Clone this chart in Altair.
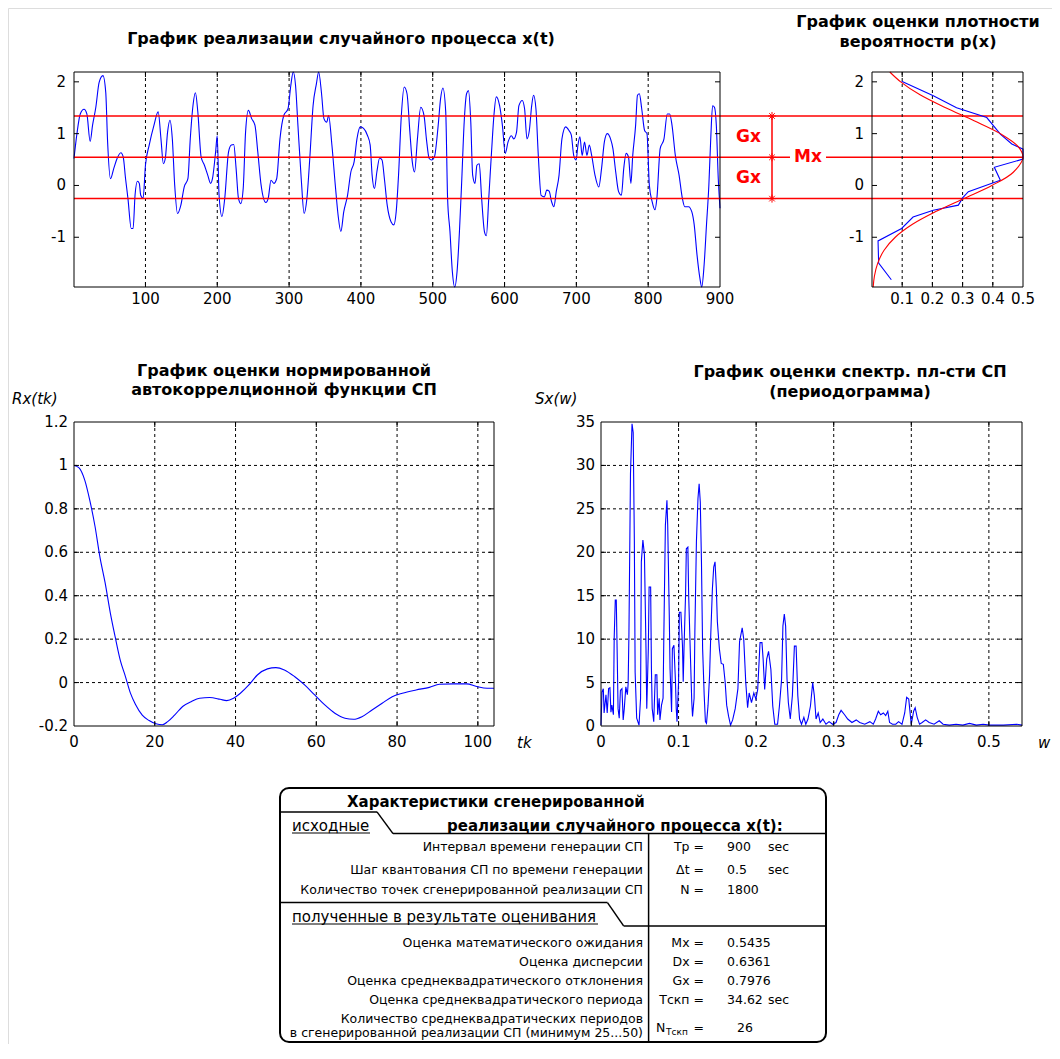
import altair as alt
import pandas as pd

# ---------------- values ----------------
Mx, Gx = 0.5435, 0.7976

t_sec = [0.5, 4.6, 9.2, 14.5, 18.4, 23.0, 26.3, 30.9, 35.5, 40.8,
         44.7, 47.3, 51.3, 55.9, 60.5, 65.8, 69.0, 72.3, 75.6, 80.2,
         82.8, 85.5, 88.8, 91.4, 93.4, 96.7, 100.0, 105.2, 111.8, 117.7,
         121.6, 124.9, 127.6, 130.8, 134.1, 137.4, 140.7, 144.6, 149.3, 153.9,
         159.1, 162.4, 165.7, 169.6, 172.9, 177.5, 182.1, 186.7, 190.7, 193.3,
         197.9, 199.9, 202.5, 206.5, 210.4, 215.7, 219.6, 222.9, 226.2, 229.5,
         232.8, 236.1, 239.4, 243.3, 247.9, 252.5, 256.4, 261.0, 267.6, 270.9,
         274.8, 278.8, 282.7, 287.3, 292.6, 298.5, 302.4, 305.7, 309.0, 312.3,
         316.9, 320.9, 324.8, 328.8, 333.4, 338.0, 341.2, 345.2, 348.5, 352.4,
         355.0, 359.6, 364.3, 368.2, 372.1, 376.1, 381.4, 386.0, 390.6, 394.5,
         399.1, 403.7, 409.0, 412.9, 415.6, 418.9, 422.2, 426.1, 429.4, 432.7,
         436.6, 441.9, 445.8, 449.1, 452.4, 456.3, 460.3, 464.2, 468.2, 471.5,
         474.7, 478.7, 483.3, 487.9, 491.2, 495.1, 498.4, 502.3, 507.6, 510.9,
         514.2, 518.1, 520.7, 524.0, 527.3, 530.6, 533.9, 537.2, 540.5, 543.8,
         547.1, 549.7, 553.0, 555.6, 558.9, 561.5, 564.8, 568.1, 572.0, 574.7,
         578.0, 581.9, 585.2, 588.5, 593.1, 597.0, 601.0, 604.9, 609.5, 612.8,
         616.7, 620.0, 624.6, 627.9, 631.2, 634.5, 637.8, 640.4, 643.7, 647.0,
         650.9, 655.5, 658.8, 662.1, 665.4, 668.7, 672.0, 675.9, 679.9, 685.1,
         689.7, 693.0, 696.3, 699.6, 702.2, 704.9, 708.1, 711.4, 714.7, 718.0,
         721.3, 725.9, 731.2, 735.1, 739.0, 743.0, 747.6, 750.9, 754.8, 758.8,
         762.7, 766.0, 769.3, 772.6, 775.9, 778.5, 782.5, 785.1, 787.7, 791.0,
         795.0, 798.3, 801.6, 805.5, 809.5, 812.1, 816.7, 822.0, 826.6, 829.9,
         833.2, 837.8, 843.0, 847.6, 850.9, 856.2, 860.8, 864.1, 868.0, 872.0,
         874.6, 877.9, 881.2, 884.5, 887.1, 889.7, 892.3, 894.9, 897.6, 900.0]
x_val = [0.52, 1.00, 1.38, 1.47, 1.38, 0.85, 1.16, 1.51, 1.99, 2.12,
         1.80, 0.84, 0.13, 0.33, 0.52, 0.63, 0.55, 0.13, -0.25, -0.83,
         -0.83, -0.19, 0.08, 0.04, -0.19, -0.25, 0.39, 0.78, 1.16, 1.42,
         0.90, 0.42, 0.52, 1.03, 1.26, 0.90, 0.01, -0.54, -0.38, -0.03,
         0.13, 0.90, 1.48, 1.79, 1.42, 0.55, 0.39, 0.20, 0.04, 0.13,
         0.68, 0.96, -0.19, -0.60, -0.25, 0.65, 0.78, 0.79, 0.33, -0.25,
         -0.35, -0.06, 1.03, 1.45, 1.29, 1.16, 0.65, 0.01, -0.33, -0.25,
         0.10, 0.04, 0.13, 0.90, 1.35, 1.48, 1.93, 2.19, 1.93, 1.16,
         0.13, -0.54, -0.25, 0.52, 1.54, 1.96, 2.19, 1.77, 1.29, 1.22,
         1.35, 0.78, 0.01, -0.57, -0.89, -0.51, -0.19, 0.26, 0.46, 0.90,
         1.13, 1.10, 0.97, 0.78, 0.20, -0.06, 0.26, 0.53, 0.49, 0.13,
         -0.38, -0.70, -0.76, -0.51, 0.20, 1.35, 1.90, 1.77, 1.03, 0.46,
         0.26, 0.90, 1.51, 1.35, 0.90, 0.52, 0.49, 0.55, 1.16, 1.67,
         1.88, 1.42, -0.25, -0.89, -1.66, -1.96, -1.66, -0.89, 0.13, 1.22,
         1.77, 1.83, 1.22, 0.20, 0.04, 0.39, 0.42, -0.25, -0.89, -0.97,
         -0.25, 0.65, 1.35, 1.71, 1.54, 1.16, 0.62, 0.84, 0.96, 0.90,
         1.03, 1.54, 1.64, 1.48, 0.90, 1.06, 1.54, 1.74, 1.48, 0.58,
         -0.19, -0.22, -0.09, -0.11, -0.31, -0.41, -0.12, 0.20, 0.90, 1.13,
         1.06, 0.97, 0.58, 0.49, 0.78, 0.94, 0.58, 0.84, 0.58, 0.78,
         0.58, 0.20, -0.03, 0.33, 0.84, 1.00, 0.90, 0.71, 0.26, -0.12,
         -0.19, 0.33, 0.62, 0.55, 0.04, 0.58, 1.16, 1.74, 1.77, 1.48,
         1.06, 1.00, 0.01, -0.31, -0.47, -0.25, 0.71, 0.90, 1.38, 1.38,
         1.16, 0.58, 0.20, -0.25, -0.41, -0.41, -0.51, -0.76, -1.34, -1.79,
         -1.96, -1.53, -0.76, 0.01, 0.90, 1.54, 1.51, 1.16, 0.13, -0.44]

dens_x = [-1.82, -1.50, -1.07, -0.83, -0.61, -0.48, -0.38, -0.24, -0.12, 0.10,
          0.35, 0.51, 0.70, 0.80, 0.99, 1.31, 1.50, 1.73, 2.01]
dens_p = [0.064, 0.022, 0.020, 0.098, 0.136, 0.203, 0.286, 0.300, 0.319, 0.425,
          0.405, 0.500, 0.500, 0.463, 0.425, 0.380, 0.280, 0.203, 0.098]
gauss_x = [-1.96, -1.75, -1.5, -1.25, -1.0, -0.75, -0.5, -0.25, 0.0, 0.25,
           0.5435, 0.75, 1.0, 1.25, 1.5, 1.75, 2.0, 2.19]
gauss_p = [0.004, 0.008, 0.019, 0.040, 0.077, 0.134, 0.213, 0.305, 0.397, 0.467,
           0.500, 0.484, 0.425, 0.338, 0.244, 0.159, 0.095, 0.059]

acf_tk = [0, 1.2, 2.7, 3.9, 5.2, 6.4, 7.7, 9.0, 10.2, 11.5,
          12.7, 14.0, 15.2, 16.9, 18.6, 20.3, 21.9, 23.2, 24.9, 26.9,
          29.0, 31.1, 33.6, 36.2, 37.8, 39.5, 41.2, 43.3, 45.4, 47.9,
          50.0, 52.1, 54.6, 57.1, 59.6, 62.1, 64.6, 67.1, 69.2, 71.3,
          73.8, 76.3, 78.8, 81.3, 84.7, 88.0, 90.5, 93.9, 97.2, 99.7,
          102.3, 104.0]
acf_r = [1.0, 0.99, 0.93, 0.84, 0.72, 0.58, 0.46, 0.32, 0.21, 0.10,
         0.03, -0.05, -0.10, -0.15, -0.175, -0.19, -0.194, -0.18, -0.15, -0.11,
         -0.088, -0.072, -0.069, -0.077, -0.083, -0.072, -0.049, -0.011, 0.035, 0.063,
         0.069, 0.058, 0.028, -0.011, -0.057, -0.103, -0.141, -0.164, -0.169, -0.157,
         -0.126, -0.095, -0.065, -0.049, -0.034, -0.022, -0.008, -0.006, -0.006, -0.018,
         -0.026, -0.026]

psd_w = [0, 0.0013, 0.003, 0.004, 0.0064, 0.008, 0.0098, 0.0115, 0.0128, 0.014,
         0.016, 0.017, 0.0184, 0.0197, 0.021, 0.022, 0.0235, 0.025, 0.027, 0.0286,
         0.030, 0.032, 0.034, 0.035, 0.036, 0.038, 0.040, 0.0415, 0.043, 0.044,
         0.046, 0.049, 0.051, 0.052, 0.054, 0.056, 0.058, 0.059, 0.061, 0.062,
         0.064, 0.065, 0.066, 0.068, 0.070, 0.072, 0.073, 0.075, 0.076, 0.078,
         0.080, 0.081, 0.083, 0.085, 0.086, 0.088, 0.089, 0.091, 0.092, 0.094,
         0.096, 0.097, 0.098, 0.100, 0.101, 0.103, 0.105, 0.106, 0.107, 0.109,
         0.110, 0.112, 0.113, 0.115, 0.117, 0.118, 0.120, 0.121, 0.123, 0.125,
         0.1265, 0.128, 0.1295, 0.131, 0.133, 0.1346, 0.136, 0.138, 0.140, 0.1415,
         0.1436, 0.1453, 0.147, 0.1487, 0.150, 0.1526, 0.155, 0.1577, 0.160, 0.162,
         0.1645, 0.167, 0.1697, 0.173, 0.1765, 0.1786, 0.182, 0.184, 0.1866, 0.189,
         0.191, 0.194, 0.197, 0.1997, 0.202, 0.205, 0.2075, 0.209, 0.211, 0.2136,
         0.216, 0.219, 0.2214, 0.224, 0.2276, 0.230, 0.2328, 0.2345, 0.2363, 0.238,
         0.2398, 0.2415, 0.244, 0.2467, 0.2493, 0.2515, 0.2537, 0.256, 0.2585, 0.2615,
         0.264, 0.2668, 0.270, 0.2729, 0.275, 0.2772, 0.280, 0.2825, 0.286, 0.290,
         0.294, 0.2986, 0.303, 0.3065, 0.3095, 0.314, 0.318, 0.3235, 0.329, 0.3335,
         0.340, 0.3466, 0.351, 0.354, 0.3575, 0.3605, 0.364, 0.367, 0.3697, 0.372,
         0.3758, 0.380, 0.3836, 0.388, 0.3915, 0.394, 0.3967, 0.399, 0.400, 0.403,
         0.405, 0.4076, 0.4106, 0.414, 0.4185, 0.423, 0.4294, 0.436, 0.441, 0.449,
         0.4577, 0.4664, 0.475, 0.4839, 0.4926, 0.501, 0.5187, 0.536, 0.5427]
psd_s = [0.1, 3.9, 4.3, 1.5, 3.6, 1.5, 4.3, 4.4, 1.6, 2.4,
         1.3, 10.1, 14.5, 14.5, 7.6, 2.0, 0.9, 4.1, 4.3, 0.7,
         2.0, 4.5, 3.6, 4.9, 10.5, 29.0, 34.8, 33.8, 21.2, 6.2,
         0.9, 0.1, 3.2, 18.9, 21.4, 19.7, 8.9, 2.0, 8.9, 16.0,
         16.0, 6.6, 2.0, 0.5, 5.9, 5.9, 1.3, 3.2, 0.7, 2.4,
         3.2, 10.3, 23.1, 26.0, 23.1, 12.8, 6.6, 1.6, 8.9, 9.3,
         5.1, 2.0, 0.5, 5.1, 13.1, 13.1, 9.3, 5.1, 8.9, 15.1,
         20.4, 20.6, 15.1, 8.9, 2.8, 1.1, 3.2, 10.8, 21.2, 26.2,
         27.9, 25.8, 18.9, 8.9, 3.6, 0.5, 0.3, 2.4, 5.9, 10.5,
         15.8, 18.3, 18.9, 15.8, 12.0, 8.9, 7.2, 7.1, 5.1, 2.4,
         1.1, 0.1, 0.7, 2.0, 4.3, 9.7, 11.3, 10.0, 5.0, 2.1,
         3.8, 2.7, 3.8, 3.1, 4.2, 9.6, 9.6, 7.7, 4.2, 7.7,
         8.6, 6.5, 2.3, 0.2, 0.2, 2.3, 5.4, 11.5, 12.9, 11.5,
         5.4, 2.7, 0.8, 3.5, 9.2, 9.2, 3.5, 0.8, 0.2, 1.0,
         0.2, 0.8, 2.3, 5.0, 3.5, 0.8, 1.5, 0.4, 0.8, 0.2,
         0.5, 0.2, 0.4, 1.3, 1.8, 1.3, 0.8, 0.4, 0.7, 0.4,
         0.2, 0.5, 0.2, 0.8, 1.7, 1.3, 1.5, 1.2, 1.7, 0.4,
         0.2, 0.2, 0.5, 0.2, 1.5, 3.3, 3.1, 1.0, 0.2, 1.7,
         2.1, 1.0, 0.2, 0.4, 0.7, 0.4, 0.2, 0.6, 0.2, 0.1,
         0.2, 0.1, 0.3, 0.1, 0.2, 0.1, 0.1, 0.2, 0.1]

# tick / grid values
p1_xticks = [100, 200, 300, 400, 500, 600, 700, 800, 900]
p1_yticks = [-1, 0, 1, 2]
p2_xticks = [0.1, 0.2, 0.3, 0.4, 0.5]
p3_xticks = [0, 20, 40, 60, 80, 100]
p3_yticks = [-0.2, 0, 0.2, 0.4, 0.6, 0.8, 1, 1.2]
p4_xticks = [0, 0.1, 0.2, 0.3, 0.4, 0.5]
p4_yticks = [0, 5, 10, 15, 20, 25, 30, 35]

# text
titles = ["График реализации случайного процесса x(t)",
          "График оценки плотности", "вероятности p(x)",
          "График оценки нормированной", "автокоррелционной функции СП",
          "График оценки спектр. пл-сти СП", "(периодограмма)"]
axis_names = ["Rx(tk)", "Sx(w)", "tk", "w"]

tbl_head = ["Характеристики сгенерированной", "реализации случайного процесса x(t):"]
tbl_sections = ["исходные", "полученные в результате оценивания"]
in_labels = ["Интервал времени генерации СП",
             "Шаг квантования СП по времени генерации",
             "Количество точек сгенерированной реализации СП"]
in_syms = ["Tp =", "Δt =", "N ="]
in_vals = ["900", "0.5", "1800"]
in_units = ["sec", "sec", ""]
out_labels = ["Оценка математического ожидания", "Оценка дисперсии",
              "Оценка среднеквадратического отклонения",
              "Оценка среднеквадратического периода"]
out_syms = ["Mx =", "Dx =", "Gx =", "Тскп ="]
out_vals = ["0.5435", "0.6361", "0.7976", "34.62"]
out_units = ["", "", "", "sec"]
last_labels = ["Количество среднеквадратических периодов",
               "в сгенерированной реализации СП (минимум 25...50)"]
last_sym, last_sub, last_eq, last_val = "N", "Тскп", "=", "26"

# ---------------- layout / style ----------------
FONT = "DejaVu Sans"
BLUE = "#0000ff"
RED = "#ff0000"
W, H = 1044, 1036

P1 = {"x0": 66, "x1": 712, "y0": 64, "y1": 279}
P2 = {"x0": 864, "x1": 1015, "y0": 64, "y1": 279}
P3 = {"x0": 66, "x1": 486, "y0": 414, "y1": 718}
P4 = {"x0": 593, "x1": 1014, "y0": 414, "y1": 718}


def lin(domain, P, ax):
    rng = [P["x0"], P["x1"]] if ax == "x" else [P["y1"], P["y0"]]
    return alt.Scale(domain=domain, range=rng, nice=False, zero=False)


sx1 = lin([0.5, 900], P1, "x")
sy1 = lin([-1.96, 2.19], P1, "y")
sx2 = lin([0, 0.5], P2, "x")
sy2 = lin([-1.96, 2.19], P2, "y")
sx3 = lin([0, 104], P3, "x")
sy3 = lin([-0.2, 1.2], P3, "y")
sx4 = lin([0, 0.5427], P4, "x")
sy4 = lin([0, 35], P4, "y")


def fmt(v):
    return f"{v:g}"


def xlabels(vals, sx, P, pad):
    df = pd.DataFrame({"v": vals, "txt": [fmt(v) for v in vals]})
    return alt.Chart(df).mark_text(align="center", baseline="top", font=FONT, fontSize=15,
                                   color="black").encode(
        x=alt.X("v:Q", scale=sx, axis=None), y=alt.value(P["y1"] + pad), text="txt:N")


def ylabels(vals, sy, P, pad):
    df = pd.DataFrame({"v": vals, "txt": [fmt(v) for v in vals]})
    return alt.Chart(df).mark_text(align="right", baseline="middle", font=FONT, fontSize=15,
                                   color="black").encode(
        y=alt.Y("v:Q", scale=sy, axis=None), x=alt.value(P["x0"] - pad), text="txt:N")


def vgrid(vals, sx, P):
    return alt.Chart(pd.DataFrame({"v": vals})).mark_rule(
        color="black", strokeDash=[3, 3], strokeWidth=1).encode(
        x=alt.X("v:Q", scale=sx, axis=None), y=alt.value(P["y0"]), y2=alt.value(P["y1"]))


def hgrid(vals, sy, P):
    return alt.Chart(pd.DataFrame({"v": vals})).mark_rule(
        color="black", strokeDash=[3, 3], strokeWidth=1).encode(
        y=alt.Y("v:Q", scale=sy, axis=None), x=alt.value(P["x0"]), x2=alt.value(P["x1"]))


def frame(P):
    return alt.Chart(pd.DataFrame({"k": [0]})).mark_rect(
        filled=False, color="black", strokeWidth=1).encode(
        x=alt.value(P["x0"]), x2=alt.value(P["x1"]), y=alt.value(P["y0"]), y2=alt.value(P["y1"]))


def xticks(vals, sx, P):
    n = len(vals)
    df = pd.DataFrame({"v": vals * 2, "py": [P["y1"]] * n + [P["y0"]] * n,
                       "shp": ["M0,0L0,-1"] * n + ["M0,0L0,1"] * n})
    return alt.Chart(df).mark_point(filled=False, color="black", strokeWidth=1,
                                    size=100, opacity=1).encode(
        x=alt.X("v:Q", scale=sx, axis=None), y=alt.Y("py:Q", scale=None, axis=None),
        shape=alt.Shape("shp:N", scale=None, legend=None))


def yticks(vals, sy, P):
    n = len(vals)
    df = pd.DataFrame({"v": vals * 2, "px": [P["x0"]] * n + [P["x1"]] * n,
                       "shp": ["M0,0L1,0"] * n + ["M0,0L-1,0"] * n})
    return alt.Chart(df).mark_point(filled=False, color="black", strokeWidth=1,
                                    size=100, opacity=1).encode(
        y=alt.Y("v:Q", scale=sy, axis=None), x=alt.X("px:Q", scale=None, axis=None),
        shape=alt.Shape("shp:N", scale=None, legend=None))


# ---------------- panel 1: realisation ----------------
df_ts = pd.DataFrame({"t": t_sec, "x": x_val})
ts_line = alt.Chart(df_ts).mark_line(color=BLUE, strokeWidth=1.1, interpolate="monotone").encode(
    x=alt.X("t:Q", scale=sx1, axis=None), y=alt.Y("x:Q", scale=sy1, axis=None))

red_full = alt.Chart(pd.DataFrame({"y": [Mx + Gx, Mx - Gx]})).mark_rule(
    color=RED, strokeWidth=1.5).encode(
    y=alt.Y("y:Q", scale=sy1, axis=None), x=alt.value(P1["x0"]), x2=alt.value(P2["x1"]))
red_mx_a = alt.Chart(pd.DataFrame({"y": [Mx]})).mark_rule(color=RED, strokeWidth=1.5).encode(
    y=alt.Y("y:Q", scale=sy1, axis=None), x=alt.value(P1["x0"]), x2=alt.value(782))
red_mx_b = alt.Chart(pd.DataFrame({"y": [Mx]})).mark_rule(color=RED, strokeWidth=1.5).encode(
    y=alt.Y("y:Q", scale=sy1, axis=None), x=alt.value(818), x2=alt.value(P2["x1"]))
red_vert = alt.Chart(pd.DataFrame({"y": [Mx + Gx], "y2": [Mx - Gx]})).mark_rule(
    color=RED, strokeWidth=1.5).encode(
    y=alt.Y("y:Q", scale=sy1, axis=None), y2="y2:Q", x=alt.value(764))
ASTER = "M-1,0L1,0M0,-1L0,1M-0.7,-0.7L0.7,0.7M-0.7,0.7L0.7,-0.7"
red_star = alt.Chart(pd.DataFrame({"y": [Mx + Gx, Mx, Mx - Gx]})).mark_point(
    shape=ASTER, size=64, filled=False, color=RED, strokeWidth=1, opacity=1).encode(
    y=alt.Y("y:Q", scale=sy1, axis=None), x=alt.value(764))
gx_txt = alt.Chart(pd.DataFrame({"y": [Mx + Gx / 2, Mx - Gx / 2], "t": ["Gx", "Gx"]})).mark_text(
    align="right", baseline="middle", font=FONT, fontSize=17, fontWeight="bold", color=RED).encode(
    y=alt.Y("y:Q", scale=sy1, axis=None), x=alt.value(753), text="t:N")
mx_txt = alt.Chart(pd.DataFrame({"y": [Mx], "t": ["Mx"]})).mark_text(
    align="center", baseline="middle", font=FONT, fontSize=17, fontWeight="bold", color=RED).encode(
    y=alt.Y("y:Q", scale=sy1, axis=None), x=alt.value(800), text="t:N")

panel1 = alt.layer(
    vgrid(p1_xticks[:-1], sx1, P1), ts_line, red_full, red_mx_a, red_mx_b, red_vert, red_star,
    gx_txt, mx_txt, frame(P1), xticks(p1_xticks[:-1], sx1, P1), yticks(p1_yticks, sy1, P1),
    xlabels(p1_xticks, sx1, P1, 5), ylabels(p1_yticks, sy1, P1, 8))

# ---------------- panel 2: density ----------------
df_d = pd.DataFrame({"v": dens_x, "p": dens_p, "i": list(range(len(dens_x)))})
df_g = pd.DataFrame({"v": gauss_x, "p": gauss_p, "i": list(range(len(gauss_x)))})
dens_line = alt.Chart(df_d).mark_line(color=BLUE, strokeWidth=1.1).encode(
    x=alt.X("p:Q", scale=sx2, axis=None), y=alt.Y("v:Q", scale=sy2, axis=None),
    order=alt.Order("i:Q"))
gauss_line = alt.Chart(df_g).mark_line(color=RED, strokeWidth=1.1, interpolate="catmull-rom").encode(
    x=alt.X("p:Q", scale=sx2, axis=None), y=alt.Y("v:Q", scale=sy2, axis=None),
    order=alt.Order("i:Q"))
panel2 = alt.layer(vgrid(p2_xticks[:-1], sx2, P2), dens_line, gauss_line, frame(P2),
                   xticks(p2_xticks[:-1], sx2, P2), yticks(p1_yticks, sy2, P2),
                   xlabels(p2_xticks, sx2, P2, 5), ylabels(p1_yticks, sy2, P2, 8))

# ---------------- panel 3: autocorrelation ----------------
df_acf = pd.DataFrame({"tk": acf_tk, "r": acf_r})
acf_line = alt.Chart(df_acf).mark_line(color=BLUE, strokeWidth=1.1, interpolate="monotone").encode(
    x=alt.X("tk:Q", scale=sx3, axis=None), y=alt.Y("r:Q", scale=sy3, axis=None))
panel3 = alt.layer(vgrid(p3_xticks[1:], sx3, P3), hgrid(p3_yticks[1:-1], sy3, P3), acf_line,
                   frame(P3), xticks(p3_xticks[1:], sx3, P3), yticks(p3_yticks[1:-1], sy3, P3),
                   xlabels(p3_xticks, sx3, P3, 9), ylabels(p3_yticks, sy3, P3, 6))

# ---------------- panel 4: periodogram ----------------
df_psd = pd.DataFrame({"w": psd_w, "s": psd_s})
psd_line = alt.Chart(df_psd).mark_line(color=BLUE, strokeWidth=1.1).encode(
    x=alt.X("w:Q", scale=sx4, axis=None), y=alt.Y("s:Q", scale=sy4, axis=None))
panel4 = alt.layer(vgrid(p4_xticks[1:], sx4, P4), hgrid(p4_yticks[1:-1], sy4, P4), psd_line,
                   frame(P4), xticks(p4_xticks[1:], sx4, P4), yticks(p4_yticks[1:-1], sy4, P4),
                   xlabels(p4_xticks, sx4, P4, 9), ylabels(p4_yticks, sy4, P4, 6))

# ---------------- titles and axis names ----------------
title_pos = [(333, 30.5), (910, 13.5), (910, 33.5), (276, 363), (276, 382), (842, 364), (842, 384)]
df_titles = pd.DataFrame({"txt": titles, "px": [p[0] for p in title_pos], "py": [p[1] for p in title_pos]})
title_layer = alt.Chart(df_titles).mark_text(
    align="center", baseline="middle", font=FONT, fontSize=16, fontWeight="bold", color="black").encode(
    x=alt.X("px:Q", scale=None, axis=None), y=alt.Y("py:Q", scale=None, axis=None), text="txt:N")

name_pos = [(4, 391), (527, 391), (509, 735), (1030, 735)]
df_names = pd.DataFrame({"txt": axis_names, "px": [p[0] for p in name_pos], "py": [p[1] for p in name_pos]})
name_layer = alt.Chart(df_names).mark_text(
    align="left", baseline="middle", font=FONT, fontSize=15, fontStyle="italic", color="black").encode(
    x=alt.X("px:Q", scale=None, axis=None), y=alt.Y("py:Q", scale=None, axis=None), text="txt:N")

# ---------------- table ----------------
BOX = {"x0": 272, "x1": 818, "y0": 780, "y1": 1034}
row_in_y = [839.2, 861.7, 882.0]
row_out_y = [934.5, 953.8, 972.9, 992.0]
last_y = [1011.1, 1025.4]
last_sym_y = 1019.5
X_LABEL, X_SYM, X_VAL, X_UNIT = 635, 696, 719, 760


def txt_layer(texts, xs, ys, align, size=12, weight="normal"):
    df = pd.DataFrame({"txt": texts, "px": xs, "py": ys})
    df = df[df["txt"] != ""]
    return alt.Chart(df).mark_text(
        align=align, baseline="middle", font=FONT, fontSize=size, fontWeight=weight, color="black").encode(
        x=alt.X("px:Q", scale=None, axis=None), y=alt.Y("py:Q", scale=None, axis=None), text="txt:N")


all_labels = in_labels + out_labels + last_labels
all_label_y = row_in_y + row_out_y + last_y
t_labels = txt_layer(all_labels, [X_LABEL] * len(all_labels), all_label_y, "right", size=12.5)
t_syms = txt_layer(in_syms + out_syms + [last_eq], [X_SYM] * 8, row_in_y + row_out_y + [last_sym_y], "right", size=12.5)
t_vals = txt_layer(in_vals + out_vals + [last_val], [X_VAL] * 7 + [729], row_in_y + row_out_y + [last_sym_y], "left", size=12.5)
t_units = txt_layer(in_units + out_units, [X_UNIT] * 7, row_in_y + row_out_y, "left", size=12.5)
t_nsym = txt_layer([last_sym], [648], [last_sym_y], "left", size=12.5)
t_nsub = txt_layer([last_sub], [658], [last_sym_y + 4], "left", size=9)
t_head = txt_layer(tbl_head, [339, 439], [794.3, 818.2], "left", size=15, weight="bold")
t_sect = txt_layer(tbl_sections, [284, 284], [818.2, 908.9], "left", size=15)

box = alt.Chart(pd.DataFrame({"k": [0]})).mark_rect(
    filled=False, color="black", strokeWidth=2, cornerRadius=9).encode(
    x=alt.value(BOX["x0"]), x2=alt.value(BOX["x1"]), y=alt.value(BOX["y0"]), y2=alt.value(BOX["y1"]))
seg = pd.DataFrame({
    "x":  [272, 369, 385, 640.6, 272, 599.5, 615.6],
    "y":  [803.9, 803.9, 825.6, 825.6, 894.6, 894.6, 917.9],
    "x2": [369, 385, 818, 640.6, 599.5, 615.6, 818],
    "y2": [803.9, 825.6, 825.6, 1034, 894.6, 917.9, 917.9]})
sep_lines = alt.Chart(seg).mark_rule(color="black", strokeWidth=1.5).encode(
    x=alt.X("x:Q", scale=None, axis=None), y=alt.Y("y:Q", scale=None, axis=None), x2="x2:Q", y2="y2:Q")
und = pd.DataFrame({"x": [284, 284], "y": [825.0, 916.0], "x2": [362, 590], "y2": [825.0, 916.0]})
und_lines = alt.Chart(und).mark_rule(color="black", strokeWidth=1).encode(
    x=alt.X("x:Q", scale=None, axis=None), y=alt.Y("y:Q", scale=None, axis=None), x2="x2:Q", y2="y2:Q")

chart = alt.layer(
    panel1, panel2, panel3, panel4, title_layer, name_layer,
    box, sep_lines, und_lines, t_labels, t_syms, t_vals, t_units, t_nsym, t_nsub, t_head, t_sect
).resolve_scale(x="independent", y="independent").properties(
    width=W, height=H, autosize=alt.AutoSizeParams(type="none"), padding=0
).configure_view(strokeWidth=0).configure(background="white")

chart.save("out.html", embed_options={"renderer": "svg", "actions": False})
